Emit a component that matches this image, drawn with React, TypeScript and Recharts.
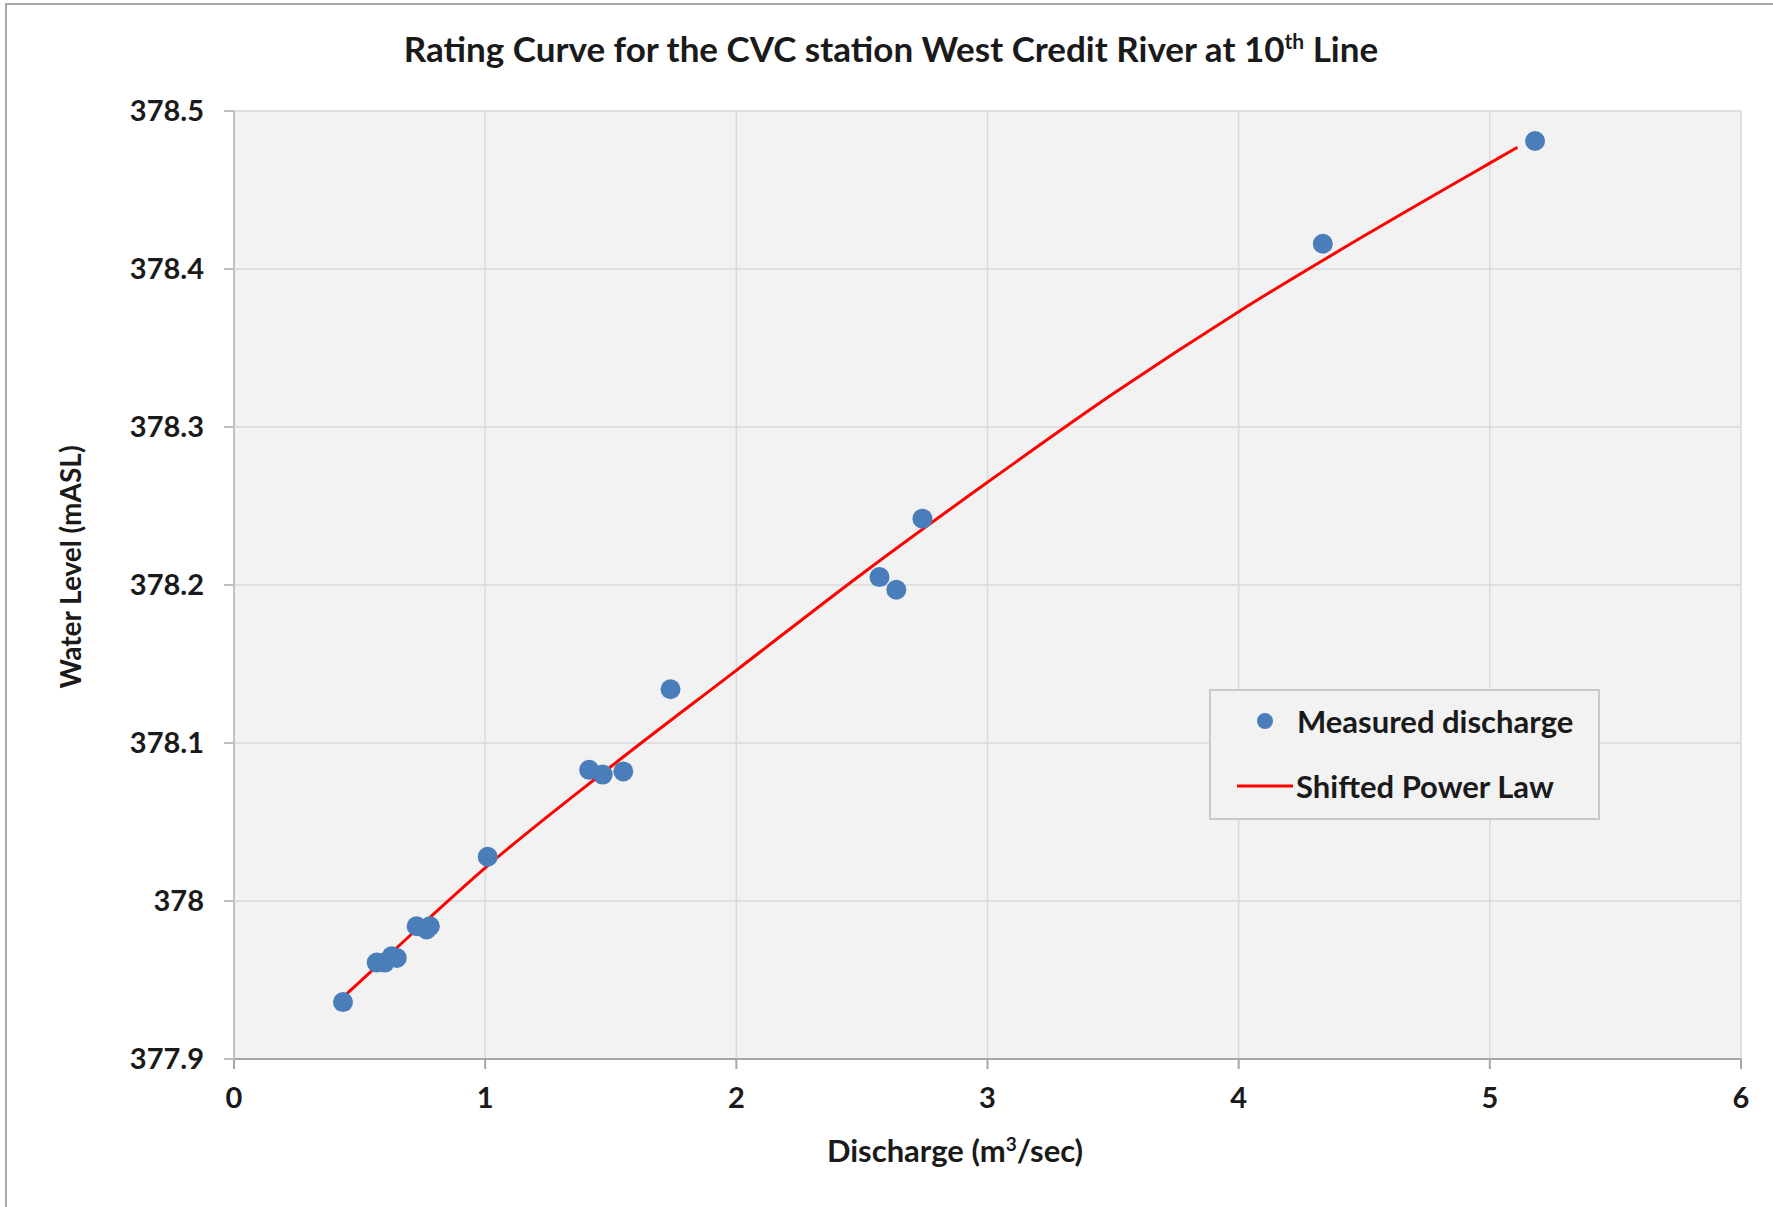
import React from "react";
import { ComposedChart, Scatter, Line, XAxis, YAxis, CartesianGrid, Legend } from "recharts";

// measured gaugings: discharge (m3/s) and water level (mASL)
const measuredQ = [0.434, 0.568, 0.6, 0.628, 0.648, 0.727, 0.767, 0.78, 1.01, 1.414, 1.468, 1.55, 1.738, 2.57, 2.637, 2.741, 4.335, 5.18];
const measuredH = [377.936, 377.961, 377.961, 377.965, 377.964, 377.984, 377.982, 377.984, 378.028, 378.083, 378.08, 378.082, 378.134, 378.205, 378.197, 378.242, 378.416, 378.481];

// fitted shifted power law curve
const curveQ = [0.44, 0.7, 1.0, 1.5, 2.0, 2.5, 3.0, 3.5, 4.0, 4.5, 5.0, 5.11];
const curveH = [377.94, 377.978, 378.021, 378.085, 378.146, 378.207, 378.265, 378.321, 378.373, 378.421, 378.467, 378.477];

const xTicks = [0, 1, 2, 3, 4, 5, 6];
const yTicks = [377.9, 378, 378.1, 378.2, 378.3, 378.4, 378.5];

const measured = measuredQ.map((q, i) => ({ x: q, y: measuredH[i] }));
const curve = curveQ.map((q, i) => ({ x: q, y: curveH[i] }));

const FONT = "Lato, 'Open Sans', sans-serif";
const BLUE = "#4a7ebb";
const INK = "#1a1a1a";

const Dot = (props: any) => <circle cx={props.cx} cy={props.cy} r={10} fill={BLUE} />;

const LegendBox = () => (
  <div
    style={{
      width: 391,
      height: 131,
      boxSizing: "border-box",
      border: "2px solid #c9c9c9",
      background: "#f2f2f2",
      position: "relative",
    }}
  >
    <svg width={391} height={131} style={{ position: "absolute", left: -2, top: -2 }}>
      <circle cx={56} cy={32} r={8} fill={BLUE} />
      <line x1={28} y1={97} x2={84} y2={97} stroke="#ff0000" strokeWidth={3} />
      <text x={88} y={32} dominantBaseline="central" fontFamily={FONT} fontWeight={700} fontSize={31} fill={INK}>
        Measured discharge
      </text>
      <text x={87} y={97} dominantBaseline="central" fontFamily={FONT} fontWeight={700} fontSize={31} fill={INK}>
        Shifted Power Law
      </text>
    </svg>
  </div>
);

const XLabel = () => (
  <text x={955} y={1162} textAnchor="middle" fontFamily={FONT} fontWeight={700} fontSize={31} fill={INK}>
    Discharge (m<tspan dy={-11} fontSize={19}>3</tspan>
    <tspan dy={11}>/sec)</tspan>
  </text>
);

const YLabel = () => (
  <text
    x={70}
    y={567}
    transform="rotate(-90 70 567)"
    textAnchor="middle"
    dominantBaseline="central"
    fontFamily={FONT}
    fontWeight={700}
    fontSize={28}
    fill={INK}
  >
    Water Level (mASL)
  </text>
);

export default function App() {
  return (
    <div style={{ position: "absolute", left: 0, top: 0, width: 1773, height: 1207, background: "#fff" }}>
      <div
        style={{
          position: "absolute",
          left: 5,
          top: 3,
          right: 0,
          bottom: 0,
          borderLeft: "2px solid #a8a8a8",
          borderTop: "2px solid #a8a8a8",
        }}
      />
      <div
        style={{
          position: "absolute",
          left: 0,
          width: 1782,
          top: 27,
          lineHeight: "42px",
          textAlign: "center",
          fontFamily: FONT,
          fontWeight: 700,
          fontSize: 35,
          color: INK,
        }}
      >
        Rating Curve for the CVC station West Credit River at 10
        <sup style={{ fontSize: 21, lineHeight: 0 }}>th</sup> Line
      </div>
      <div style={{ position: "absolute", left: 0, top: 0 }}>
        <ComposedChart width={1773} height={1207} margin={{ top: 111, right: 32, bottom: 88, left: 0 }}>
          <CartesianGrid stroke="#d9d9d9" strokeWidth={1.5} fill="#f2f2f2" />
          <XAxis
            type="number"
            dataKey="x"
            domain={[0, 6]}
            ticks={xTicks}
            height={60}
            tickSize={10}
            tickMargin={18}
            stroke="#a6a6a6"
            strokeWidth={2}
            tick={{ fontFamily: FONT, fontWeight: 700, fontSize: 29, fill: INK }}
            label={<XLabel />}
          />
          <YAxis
            type="number"
            dataKey="y"
            domain={[377.9, 378.5]}
            ticks={yTicks}
            width={234}
            tickSize={10}
            tickMargin={20}
            stroke="#bfbfbf"
            strokeWidth={2}
            tickFormatter={(v: number) => String(Number(v.toFixed(1)))}
            tick={{ fontFamily: FONT, fontWeight: 700, fontSize: 29, fill: INK }}
            label={<YLabel />}
          />
          <Line
            data={curve}
            dataKey="y"
            type="monotone"
            stroke="#ff0000"
            strokeWidth={3}
            dot={false}
            isAnimationActive={false}
            legendType="none"
          />
          <Scatter data={measured} dataKey="y" shape={<Dot />} isAnimationActive={false} />
          <Legend
            layout="vertical"
            align="center"
            verticalAlign="middle"
            content={<LegendBox />}
            wrapperStyle={{ left: 1209, top: 689, width: 391, height: 131 }}
          />
        </ComposedChart>
      </div>
    </div>
  );
}
